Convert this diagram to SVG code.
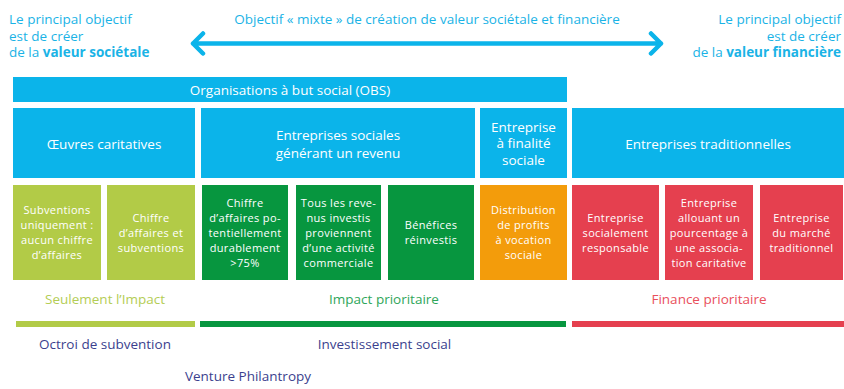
<svg xmlns="http://www.w3.org/2000/svg" width="844" height="389" viewBox="0 0 844 389">
<style>
text{font-family:"Open Sans","Liberation Sans",sans-serif}
.top{fill:#1ab3e6;font-size:13.5px}
.b{font-weight:bold}
.hd{fill:#ffffff;font-size:13.5px;text-anchor:middle}
.sm{fill:#ffffff;font-size:11px;letter-spacing:0.35px;text-anchor:middle}
.blue{fill:#0bb4ea}
.lime{fill:#b2cb47}
.green{fill:#07963f}
.orange{fill:#f39c0b}
.red{fill:#e5404f}
.lbl{font-size:13.5px;text-anchor:middle}
.navy{fill:#3b3f8e;font-size:13.5px;text-anchor:middle}
.arrow{fill:none;stroke:#0bb4ea;stroke-width:4.5;stroke-linecap:round;stroke-linejoin:round}
</style>

<g id="header-left">
<text class="top" x="9" y="24">Le principal objectif<tspan x="9" dy="16.5">est de créer</tspan><tspan x="9" dy="16.5">de la </tspan><tspan class="b">valeur sociétale</tspan></text>
</g>
<g id="header-center">
<text class="top" x="427" y="24" text-anchor="middle">Objectif « mixte » de création de valeur sociétale et financière</text>
</g>
<g id="header-right">
<text class="top" x="841" y="24" text-anchor="end">Le principal objectif<tspan x="841" dy="16.5">est de créer</tspan><tspan x="841" dy="16.5">de la <tspan class="b">valeur financière</tspan></tspan></text>
</g>

<g id="connectors">
<path class="arrow" d="M193,43.5 H661 M203,33.5 L193,43.5 L203,53.5 M651,33.5 L661,43.5 L651,53.5"/>
</g>

<g id="obs">
<rect class="blue" x="13" y="77" width="554" height="25"/>
<text class="hd" x="290" y="95">Organisations à but social (OBS)</text>
</g>

<g id="oeuvres">
<rect class="blue" x="13" y="108" width="182" height="70"/>
<text class="hd" x="104" y="149">Œuvres caritatives</text>
</g>
<g id="entreprises-sociales">
<rect class="blue" x="201" y="108" width="274" height="70"/>
<text class="hd" x="338" y="140">Entreprises sociales<tspan x="338" dy="18">générant un revenu</tspan></text>
</g>
<g id="entreprise-finalite">
<rect class="blue" x="480" y="108" width="87" height="70"/>
<text class="hd" x="523.5" y="131.5">Entreprise<tspan x="523.5" dy="16.5">à finalité</tspan><tspan x="523.5" dy="16.5">sociale</tspan></text>
</g>
<g id="entreprises-traditionnelles">
<rect class="blue" x="572" y="108" width="272" height="70"/>
<text class="hd" x="708" y="149">Entreprises traditionnelles</text>
</g>

<g id="subventions">
<rect class="lime" x="13" y="185" width="88" height="95"/>
<text class="sm" x="57" y="214">Subventions<tspan x="57" dy="15">uniquement :</tspan><tspan x="57" dy="15">aucun chiffre</tspan><tspan x="57" dy="15">d’affaires</tspan></text>
</g>
<g id="chiffre-subventions">
<rect class="lime" x="107" y="185" width="88" height="95"/>
<text class="sm" x="151" y="221.5">Chiffre<tspan x="151" dy="15">d’affaires et</tspan><tspan x="151" dy="15">subventions</tspan></text>
</g>
<g id="chiffre-75">
<rect class="green" x="202" y="185" width="86" height="95"/>
<text class="sm" x="245" y="206.5">Chiffre<tspan x="245" dy="15">d’affaires po-</tspan><tspan x="245" dy="15">tentiellement</tspan><tspan x="245" dy="15">durablement</tspan><tspan x="245" dy="15">&gt;75%</tspan></text>
</g>
<g id="revenus-investis">
<rect class="green" x="296" y="185" width="85" height="95"/>
<text class="sm" x="338.5" y="206.5">Tous les reve-<tspan x="338.5" dy="15">nus investis</tspan><tspan x="338.5" dy="15">proviennent</tspan><tspan x="338.5" dy="15">d’une activité</tspan><tspan x="338.5" dy="15">commerciale</tspan></text>
</g>
<g id="benefices">
<rect class="green" x="388" y="185" width="86" height="95"/>
<text class="sm" x="431" y="229">Bénéfices<tspan x="431" dy="15">réinvestis</tspan></text>
</g>
<g id="distribution">
<rect class="orange" x="480" y="185" width="87" height="95"/>
<text class="sm" x="523.5" y="214">Distribution<tspan x="523.5" dy="15">de profits</tspan><tspan x="523.5" dy="15">à vocation</tspan><tspan x="523.5" dy="15">sociale</tspan></text>
</g>
<g id="socialement-responsable">
<rect class="red" x="572" y="185" width="87" height="95"/>
<text class="sm" x="615.5" y="221.5">Entreprise<tspan x="615.5" dy="15">socialement</tspan><tspan x="615.5" dy="15">responsable</tspan></text>
</g>
<g id="pourcentage">
<rect class="red" x="665" y="185" width="88" height="95"/>
<text class="sm" x="709" y="206.5">Entreprise<tspan x="709" dy="15">allouant un</tspan><tspan x="709" dy="15">pourcentage à</tspan><tspan x="709" dy="15">une associa-</tspan><tspan x="709" dy="15">tion caritative</tspan></text>
</g>
<g id="marche-traditionnel">
<rect class="red" x="760" y="185" width="83" height="95"/>
<text class="sm" x="801.5" y="221.5">Entreprise<tspan x="801.5" dy="15">du marché</tspan><tspan x="801.5" dy="15">traditionnel</tspan></text>
</g>

<g id="seulement-impact">
<text class="lbl" x="105" y="304" fill="#b4cd55">Seulement l’Impact</text>
<rect class="lime" x="16" y="321" width="179" height="6"/>
</g>
<g id="impact-prioritaire">
<text class="lbl" x="384" y="304" fill="#2fa65a">Impact prioritaire</text>
<rect class="green" x="200" y="321" width="366" height="6"/>
</g>
<g id="finance-prioritaire">
<text class="lbl" x="709" y="304" fill="#e9505c">Finance prioritaire</text>
<rect class="red" x="572" y="321" width="272" height="6"/>
</g>

<g id="octroi">
<text class="navy" x="105" y="349">Octroi de subvention</text>
</g>
<g id="investissement">
<text class="navy" x="384.5" y="349">Investissement social</text>
</g>
<g id="venture">
<text class="navy" x="248" y="381">Venture Philantropy</text>
</g>
</svg>
